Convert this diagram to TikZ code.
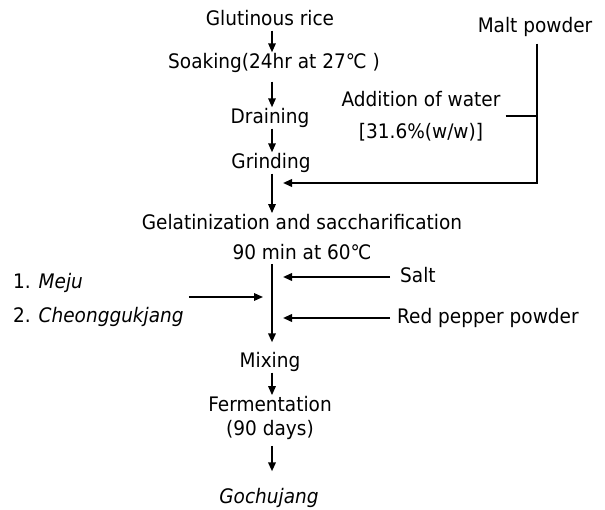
\documentclass[tikz,border=0pt]{standalone}
\usepackage{fontspec}
\setmainfont{DejaVu Sans}[FakeStretch=0.925]
\usetikzlibrary{arrows.meta}
\tikzset{
  stage/.style={inner sep=1pt,font=\fontsize{20}{24}\selectfont,
    text height=15pt,text depth=4pt},
  twoline/.style={inner sep=1pt,align=center},
  arrow/.style={-{Triangle[length=9pt,width=7.5pt]},line width=1.6pt},
  feed/.style={-{Triangle[length=9pt,width=7.5pt]},line width=2pt},
  branch/.style={line width=2pt}
}

\begin{document}
\begin{tikzpicture}[x=1pt,y=-1pt]
  \useasboundingbox (0,0) rectangle (605,510);
  \coordinate (spine) at (272,0);
  \coordinate (right tip) at (283,0);
  \coordinate (left tip) at (263,0);
  \coordinate (malt line) at (537,0);
  \coordinate (malt in) at (283,183);
  \node[stage] (rice) at (270,20) {Glutinous rice};
  \node[stage] (soak) at (274,63) {Soaking(24hr at 27℃ )};
  \node[stage] (drain) at (270,118) {Draining};
  \node[stage] (grind) at (271,163) {Grinding};
  \node[twoline,font=\fontsize{20}{30}\selectfont] (gel) at (302,237) {Gelatinization and saccharification\\90 min at 60℃};
  \node[stage] (mix) at (270,362) {Mixing};
  \node[twoline,font=\fontsize{20}{24}\selectfont] (ferm) at (270,418) {Fermentation\\(90 days)};
  \node[stage] (gochu) at (269,498) {\textit{Gochujang}};
  \node[stage] (malt) at (535,27) {Malt powder};
  \node[twoline,font=\fontsize{20}{32}\selectfont] (water) at (421,116) {Addition of water\\{[}31.6\%(w/w)]};
  \node[stage,anchor=west] (salt) at (399,277) {Salt};
  \node[stage,anchor=west] (pepper) at (396,318) {Red pepper powder};
  \node[twoline,align=left,anchor=west,font=\fontsize{20}{34}\selectfont] (meju) at (12,300) {1. \textit{Meju}\\2. \textit{Cheonggukjang}};
  \draw[arrow] (rice.south -| spine) -- (soak.north -| spine);
  \draw[arrow,shorten <=8pt] (soak.south -| spine) -- (drain.north -| spine);
  \draw[arrow] (drain.south -| spine) -- (grind.north -| spine);
  \draw[arrow] (grind.south -| spine) -- (gel.north -| spine);
  \draw[feed,shorten <=6pt] (malt.south -| malt line) |- (malt in);
  \draw[branch,shorten <=4pt] (water.east) -- (water.east -| malt line);
  \draw[feed,shorten <=3pt,shorten >=9pt] (gel.south -| spine) -- (mix.north -| spine);
  \draw[feed,shorten <=9pt] (salt.west) -- (salt.west -| right tip);
  \draw[feed,shorten <=6pt] (pepper.west) -- (pepper.west -| right tip);
  \draw[arrow,shorten <=4pt] ([yshift=3pt]meju.east) -- ([yshift=3pt]meju.east -| left tip);
  \draw[arrow] (mix.south -| spine) -- (ferm.north -| spine);
  \draw[feed,shorten <=5pt,shorten >=16pt] (ferm.south -| spine) -- (gochu.north -| spine);
\end{tikzpicture}
\end{document}
